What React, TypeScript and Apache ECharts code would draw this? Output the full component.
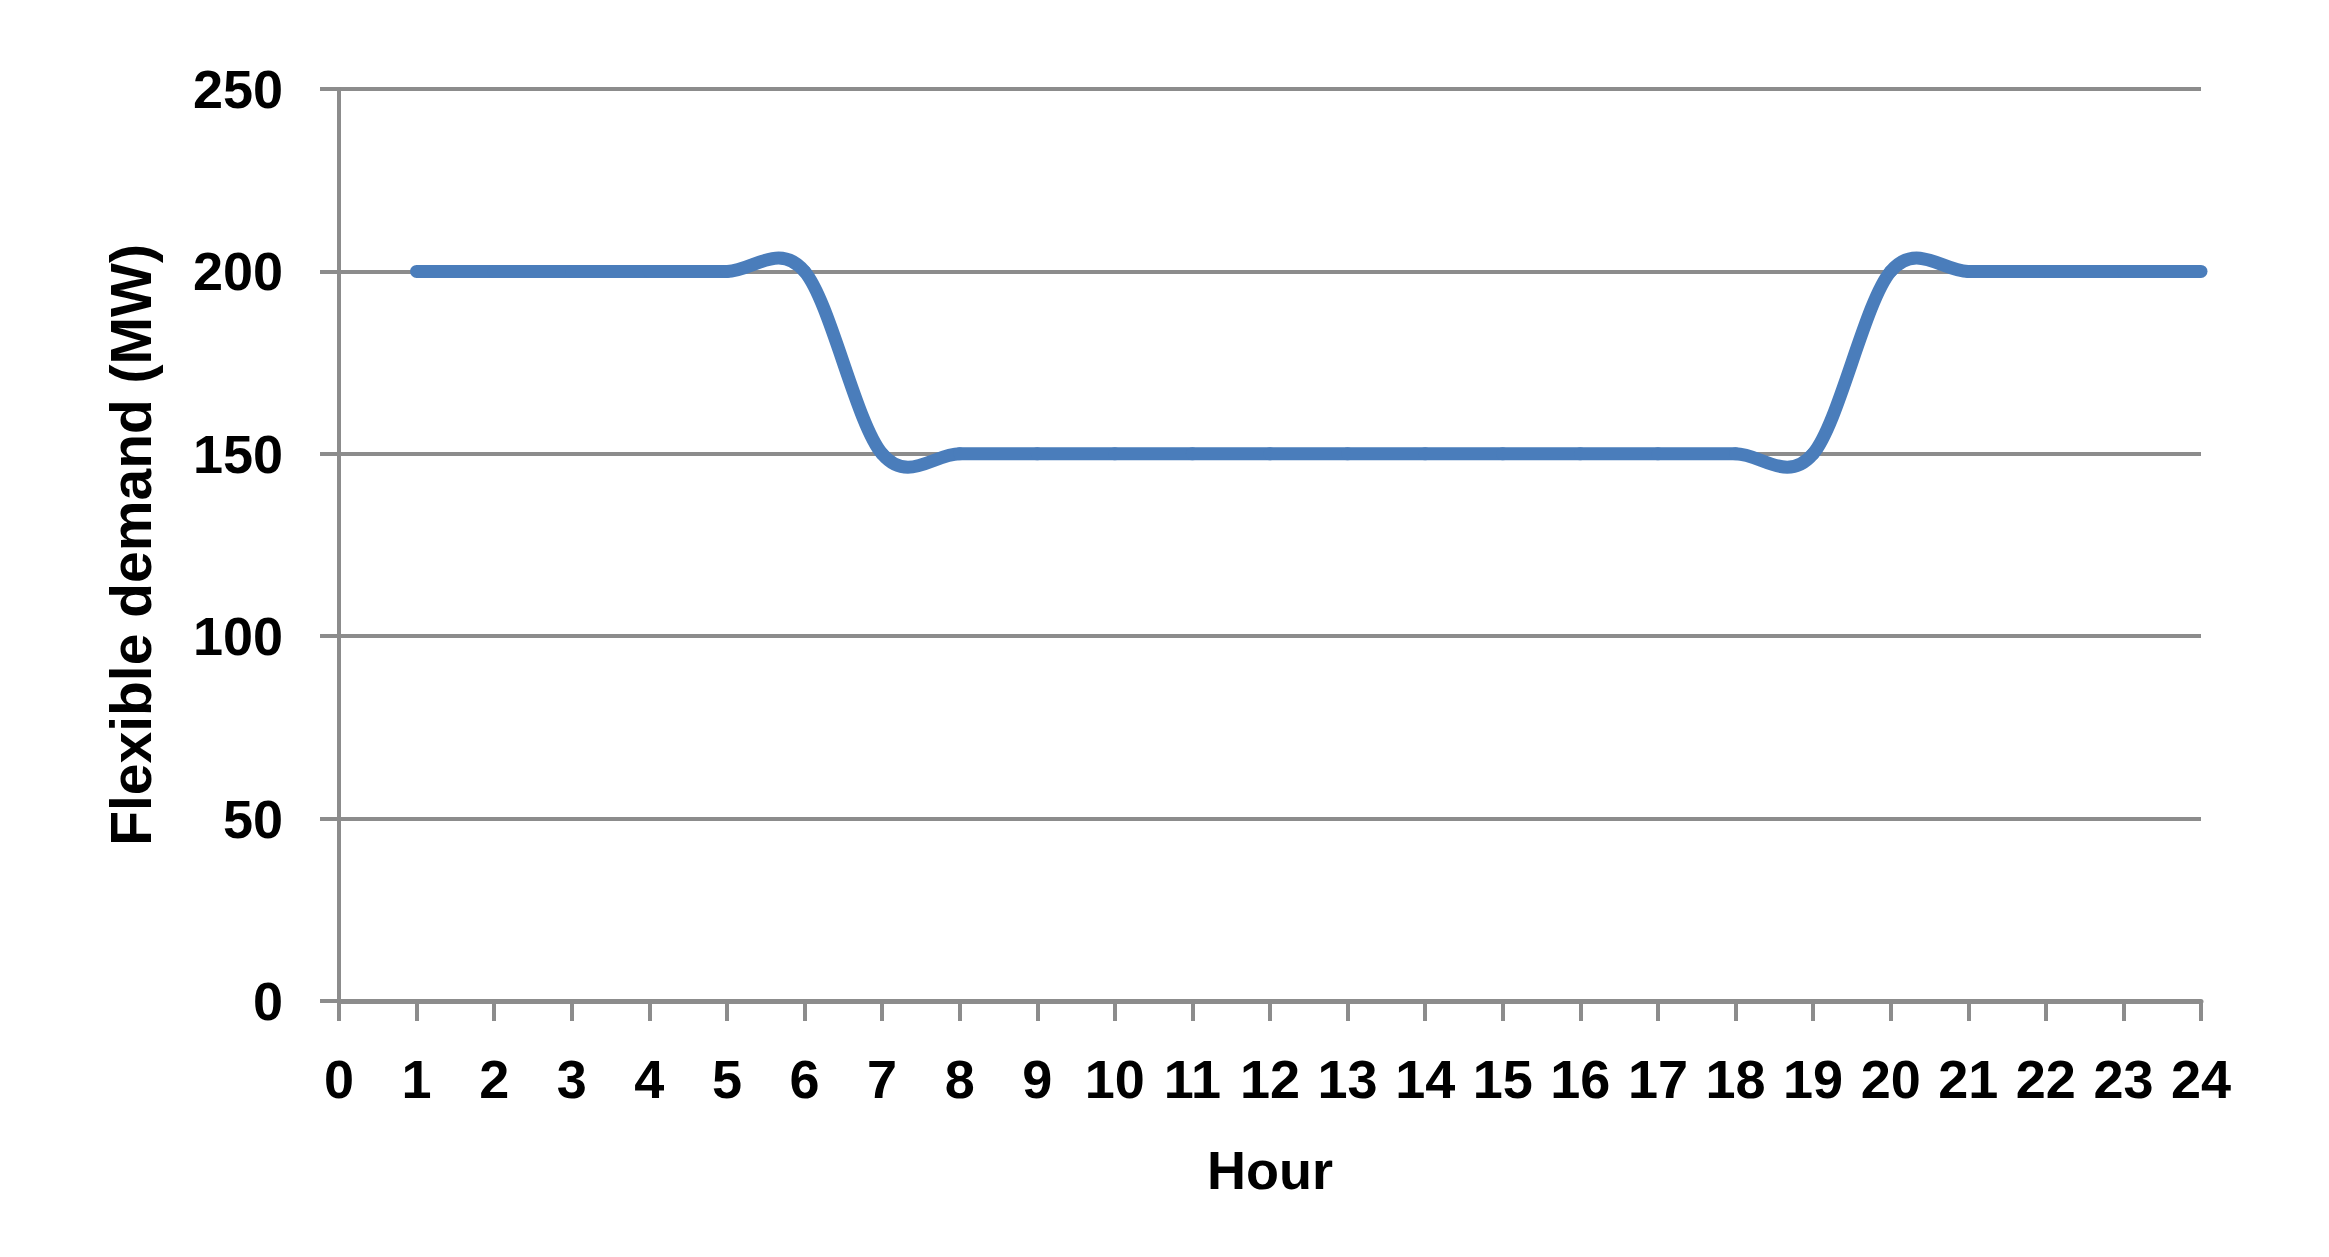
import React, { useEffect, useRef } from "react";
import * as echarts from "echarts";

const hours = [1, 2, 3, 4, 5, 6, 7, 8, 9, 10, 11, 12, 13, 14, 15, 16, 17, 18, 19, 20, 21, 22, 23, 24];
const demandMW = [200, 200, 200, 200, 200, 200, 150, 150, 150, 150, 150, 150, 150, 150, 150, 150, 150, 150, 150, 200, 200, 200, 200, 200];
const xTitle = "Hour";
const yTitle = "Flexible demand (MW)";

const FONT = "'Liberation Sans', Arial, sans-serif";
const GRID_COLOR = "#8c8c8c";
const LINE_COLOR = "#4a7dbb";

export default function App() {
  const ref = useRef<HTMLDivElement>(null);
  useEffect(() => {
    if (!ref.current) return;
    const chart = echarts.init(ref.current, null, { renderer: "svg" });
    const n = hours.length;
    chart.setOption({
      animation: false,
      backgroundColor: "#ffffff",
      grid: { left: 339, right: 128, top: 89, bottom: 256, containLabel: false },
      xAxis: {
        type: "value",
        min: 0,
        max: 24,
        interval: 1,
        name: xTitle,
        nameLocation: "middle",
        nameGap: 142,
        nameTextStyle: { fontFamily: FONT, fontWeight: "bold", fontSize: 54, color: "#000" },
        axisLine: { show: true, lineStyle: { color: GRID_COLOR, width: 5 } },
        axisTick: { show: true, inside: false, length: 20, lineStyle: { color: GRID_COLOR, width: 4 } },
        axisLabel: { margin: 51, fontFamily: FONT, fontWeight: "bold", fontSize: 54, color: "#000" },
        splitLine: { show: false },
      },
      yAxis: {
        type: "value",
        min: 0,
        max: 250,
        interval: 50,
        name: yTitle,
        nameLocation: "middle",
        nameGap: 180,
        nameRotate: 90,
        nameTextStyle: { fontFamily: FONT, fontWeight: "bold", fontSize: 57, color: "#000" },
        axisLine: { show: true, lineStyle: { color: GRID_COLOR, width: 4 } },
        axisTick: { show: true, inside: false, length: 19, lineStyle: { color: GRID_COLOR, width: 4 } },
        axisLabel: { margin: 56, fontFamily: FONT, fontWeight: "bold", fontSize: 54, color: "#000" },
        splitLine: { show: true, lineStyle: { color: GRID_COLOR, width: 4 } },
      },
      series: [
        {
          type: "custom",
          coordinateSystem: "cartesian2d",
          data: hours.map((h, i) => [h, demandMW[i]]),
          encode: { x: 0, y: 1 },
          clip: false,
          renderItem: (params: any, api: any) => {
            const i = params.dataIndex;
            if (i >= n - 1) return null;
            const pt = (k: number) => {
              const kk = Math.max(0, Math.min(n - 1, k));
              return api.coord([hours[kk], demandMW[kk]]);
            };
            const p0 = pt(i - 1);
            const p1 = pt(i);
            const p2 = pt(i + 1);
            const p3 = pt(i + 2);
            return {
              type: "bezierCurve",
              shape: {
                x1: p1[0],
                y1: p1[1],
                cpx1: p1[0] + (p2[0] - p0[0]) / 6,
                cpy1: p1[1] + (p2[1] - p0[1]) / 6,
                cpx2: p2[0] - (p3[0] - p1[0]) / 6,
                cpy2: p2[1] - (p3[1] - p1[1]) / 6,
                x2: p2[0],
                y2: p2[1],
              },
              style: { fill: "none", stroke: LINE_COLOR, lineWidth: 13, lineCap: "round", lineJoin: "round" },
            };
          },
        },
      ],
    });
    return () => chart.dispose();
  }, []);
  return (
    <div
      ref={ref}
      style={{ position: "fixed", left: 0, top: 0, width: 2329, height: 1257 }}
    />
  );
}
